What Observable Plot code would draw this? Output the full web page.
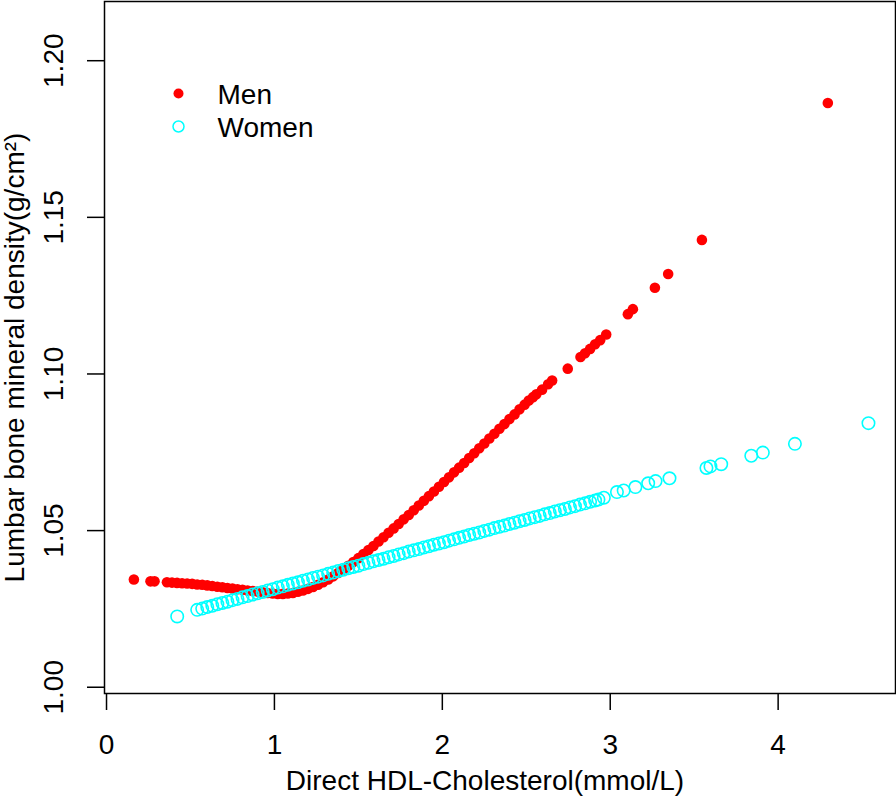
<!DOCTYPE html>
<html>
<head>
<meta charset="utf-8">
<script src="https://cdn.jsdelivr.net/npm/d3@7"></script>
<script src="https://cdn.jsdelivr.net/npm/@observablehq/plot@0.6"></script>
<style>
  html, body { margin: 0; padding: 0; background: #ffffff; }
  #chart svg { display: block; }
</style>
</head>
<body>
<div id="chart"></div>
<script>
// ---- Data ----
const menX = [0.163, 0.262, 0.286,
  0.36, 0.39, 0.42, 0.45, 0.48, 0.51, 0.54, 0.57, 0.60, 0.63, 0.66, 0.69, 0.72, 0.75, 0.78, 0.81, 0.84, 0.87, 0.90, 0.93, 0.96, 0.99,
  1.02, 1.05, 1.08, 1.11, 1.14, 1.17, 1.20, 1.23, 1.26, 1.29, 1.32, 1.35, 1.38, 1.41, 1.44, 1.47, 1.50, 1.53, 1.56, 1.59, 1.62, 1.65,
  1.68, 1.71, 1.74, 1.77, 1.80, 1.83, 1.86, 1.89, 1.92, 1.95, 1.98, 2.01, 2.04, 2.07, 2.10, 2.13, 2.16, 2.19, 2.22, 2.25, 2.28, 2.31,
  2.34, 2.37, 2.40, 2.43, 2.46, 2.49,
  2.515, 2.54, 2.56, 2.594, 2.63, 2.654, 2.747, 2.823, 2.85, 2.88, 2.91, 2.94, 2.976,
  3.105, 3.135, 3.266, 3.345, 3.546, 4.296];
const menY = [1.0344, 1.0338, 1.0338,
  1.0335, 1.0334, 1.0333, 1.0332, 1.0331, 1.0330, 1.0328, 1.0327, 1.0325, 1.0323, 1.0321, 1.0319, 1.0317, 1.0315, 1.0313, 1.0311, 1.0309, 1.0307, 1.0305, 1.0303, 1.0301, 1.0299,
  1.0298, 1.0298, 1.0299, 1.0301, 1.0305, 1.0309, 1.0314, 1.0320, 1.0327, 1.0335, 1.0344, 1.0354, 1.0365, 1.0376, 1.0388, 1.0400, 1.0412, 1.0425, 1.0438, 1.0451, 1.0465, 1.0479,
  1.0493, 1.0507, 1.0521, 1.0536, 1.0550, 1.0565, 1.0580, 1.0595, 1.0610, 1.0625, 1.0640, 1.0655, 1.0670, 1.0686, 1.0701, 1.0716, 1.0732, 1.0747, 1.0763, 1.0778, 1.0794, 1.0809,
  1.0825, 1.0840, 1.0856, 1.0871, 1.0887, 1.0902,
  1.0915, 1.0926, 1.0935, 1.0950, 1.0967, 1.0979, 1.1017, 1.1054, 1.1066, 1.1080, 1.1095, 1.1108, 1.1126,
  1.1191, 1.1207, 1.1275, 1.1319, 1.1428, 1.1865];

const womenX = [0.421,
  0.54, 0.57, 0.60, 0.63, 0.66, 0.69, 0.72, 0.75, 0.78, 0.81, 0.84, 0.87, 0.90, 0.93, 0.96, 0.99,
  1.02, 1.05, 1.08, 1.11, 1.14, 1.17, 1.20, 1.23, 1.26, 1.29, 1.32, 1.35, 1.38, 1.41, 1.44, 1.47, 1.50,
  1.53, 1.56, 1.59, 1.62, 1.65, 1.68, 1.71, 1.74, 1.77, 1.80, 1.83, 1.86, 1.89, 1.92, 1.95, 1.98,
  2.01, 2.04, 2.07, 2.10, 2.13, 2.16, 2.19, 2.22, 2.25, 2.28, 2.31, 2.34, 2.37, 2.40, 2.43, 2.46, 2.49,
  2.52, 2.55, 2.58, 2.61, 2.64, 2.67, 2.70, 2.73, 2.76, 2.79, 2.82, 2.85, 2.88, 2.91, 2.93,
  2.962, 3.04, 3.08, 3.15, 3.226, 3.27, 3.353, 3.573, 3.597, 3.661, 3.840, 3.909, 4.10, 4.538];
const womenY = [1.0226,
  1.0247, 1.0251, 1.0256, 1.0260, 1.0265, 1.0269, 1.0273, 1.0278, 1.0282, 1.0287, 1.0291, 1.0296, 1.0300, 1.0304, 1.0309, 1.0313,
  1.0318, 1.0322, 1.0327, 1.0331, 1.0335, 1.0340, 1.0344, 1.0349, 1.0353, 1.0357, 1.0362, 1.0366, 1.0371, 1.0375, 1.0380, 1.0384, 1.0388,
  1.0393, 1.0397, 1.0402, 1.0406, 1.0410, 1.0415, 1.0419, 1.0424, 1.0428, 1.0433, 1.0437, 1.0441, 1.0446, 1.0450, 1.0455, 1.0459,
  1.0463, 1.0468, 1.0472, 1.0477, 1.0481, 1.0486, 1.0490, 1.0494, 1.0499, 1.0503, 1.0508, 1.0512, 1.0516, 1.0521, 1.0525, 1.0530, 1.0534,
  1.0539, 1.0543, 1.0547, 1.0552, 1.0556, 1.0561, 1.0565, 1.0569, 1.0574, 1.0578, 1.0583, 1.0587, 1.0592, 1.0596, 1.0599,
  1.0605, 1.0623, 1.0628, 1.0639, 1.0651, 1.0658, 1.0667, 1.0700, 1.0705, 1.0712, 1.0739, 1.0749, 1.0777, 1.0843];

const xTicks = [0, 1, 2, 3, 4];
const yTicks = [1.00, 1.05, 1.10, 1.15, 1.20];
const seriesNames = ["Men", "Women"];
const xLabel = "Direct HDL-Cholesterol(mmol/L)";
const yLabel = "Lumbar bone mineral density(g/cm²)";

// ---- Build tables ----
const men = menX.map((x, i) => ({x, y: menY[i]}));
const women = womenX.map((x, i) => ({x, y: womenY[i]}));

const RED = "#FF0000";
const CYAN = "#00FFFF";
const FONT = "'Liberation Sans', Arial, Helvetica, sans-serif";

const chart = Plot.plot({
  width: 896,
  height: 799,
  marginLeft: 104,
  marginRight: 1,
  marginTop: 1,
  marginBottom: 106,
  style: {fontFamily: FONT, fontSize: "28px", background: "#ffffff", color: "#000000"},
  x: {domain: [-0.012, 4.699], label: null},
  y: {domain: [0.998, 1.2189], label: null},
  marks: [
    Plot.frame({stroke: "#000000", strokeWidth: 1.5}),
    Plot.axisX({ticks: xTicks, tickSize: 17, tickPadding: 24, fontSize: 28, strokeWidth: 1.5,
                tickFormat: d3.format("d"), label: null}),
    Plot.axisY({ticks: yTicks, tickSize: 17, strokeWidth: 1.5, tickFormat: () => "", label: null}),
    Plot.text(yTicks, {y: d => d, text: d => d3.format(".2f")(d), frameAnchor: "left",
                       textAnchor: "middle", lineAnchor: "middle",
                       dx: -50, rotate: -90, fontSize: 28, fill: "#000000"}),
    // axis titles
    Plot.text([xLabel], {text: d => d, frameAnchor: "bottom", textAnchor: "middle", lineAnchor: "middle",
                         dx: -15, dy: 88, fontSize: 28, fill: "#000000"}),
    Plot.text([yLabel], {text: d => d, frameAnchor: "left", textAnchor: "middle", lineAnchor: "middle",
                         dx: -89, dy: 10, rotate: -90, fontSize: 28, fill: "#000000"}),
    // data
    Plot.dot(men, {x: "x", y: "y", r: 5.3, fill: RED, stroke: "none"}),
    Plot.dot(women, {x: "x", y: "y", r: 6.2, fill: "none", stroke: CYAN, strokeWidth: 1.6}),
    // legend
    Plot.dot([seriesNames[0]], {frameAnchor: "top-left", dx: 74, dy: 92, r: 5, fill: RED, stroke: "none"}),
    Plot.dot([seriesNames[1]], {frameAnchor: "top-left", dx: 74, dy: 125, r: 5.5, fill: "none", stroke: CYAN, strokeWidth: 1.5}),
    Plot.text([seriesNames[0]], {text: d => d, frameAnchor: "top-left", textAnchor: "start", lineAnchor: "middle",
                                 dx: 113, dy: 94, fontSize: 28, fill: "#000000"}),
    Plot.text([seriesNames[1]], {text: d => d, frameAnchor: "top-left", textAnchor: "start", lineAnchor: "middle",
                                 dx: 113, dy: 127, fontSize: 28, fill: "#000000"})
  ]
});

document.getElementById("chart").appendChild(chart);
</script>
</body>
</html>
